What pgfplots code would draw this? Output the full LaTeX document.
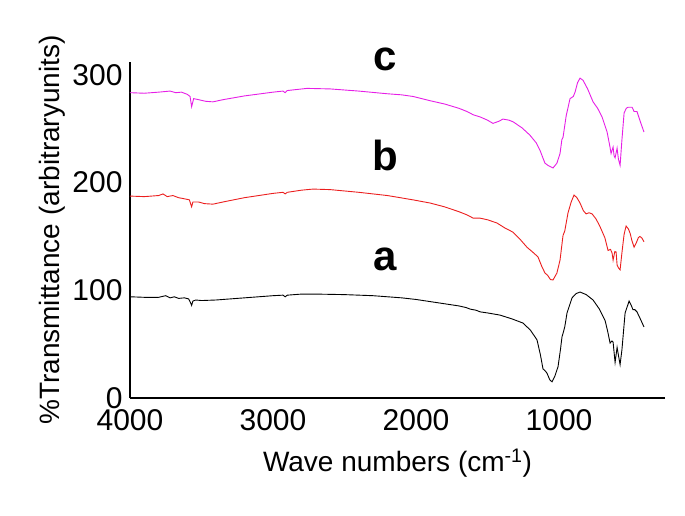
\documentclass[border=0pt]{standalone}
\usepackage{fontspec}
\setmainfont{Liberation Sans}
\usepackage{pgfplots}
\pgfplotsset{compat=1.18}
\definecolor{cmag}{RGB}{230,30,230}
\definecolor{cred}{RGB}{235,30,30}
\begin{document}
\begin{tikzpicture}
\useasboundingbox (-130pt,-117pt) rectangle (555pt,398pt);
\begin{axis}[
  scale only axis, width=535pt, height=336pt,
  x dir=reverse, xmin=259, xmax=4000, ymin=0, ymax=312,
  axis x line*=bottom, axis y line*=left,
  axis line style={line width=2.2pt},
  xtick={4000,3000,2000,1000}, ytick={0,100,200,300},
  major tick length=0pt,
  /pgf/number format/assume math mode=true,
  /pgf/number format/1000 sep={},
  ticklabel style={font=\fontsize{30}{34}\selectfont},
  xticklabel style={yshift=-8pt},
  yticklabel style={xshift=-4pt},
  label style={font=\fontsize{28}{33}\selectfont},
  xlabel={Wave numbers (cm\textsuperscript{-1})},
  ylabel={\%Transmittance (arbitraryunits)},
  xlabel style={at={(axis description cs:0.5,-0.193)}, anchor=center},
  ylabel style={at={(axis description cs:-0.1458,0.5)}, anchor=center},
  clip=false,
]
\addplot[black, line width=0.9pt] coordinates {
(4000,94)(3900,93.5)(3800,93.5)(3750,95)(3720,93)(3690,94)(3660,92.5)(3620,93)(3590,92)(3575,88)(3569,86)(3560,90)(3540,91)(3500,90.5)(3400,91)(3200,93)(3000,95)(2930,95.5)(2915,94)(2900,95.5)(2800,96.5)(2700,96.5)(2500,96)(2300,95)(2100,93)(2000,91.5)(1900,89.5)(1800,87.5)(1700,85.5)(1650,84)(1620,82.5)(1580,81.5)(1552,80)(1500,79)(1413,77)(1330,73.5)(1252,69.6)(1200,63)(1154,54)(1130,40)(1112,27)(1095,25)(1084,23)(1065,17)(1049,15)(1030,20)(1007,29)(990,45)(979,57)(972,60)(960,66)(944,79)(909,93)(880,97)(853,98.4)(810,96)(762,91)(720,83)(678,72)(660,62)(643,51)(630,53)(622,52)(608,33)(594,47)(585,40)(573,31)(560,45)(538,79)(510,90)(495,86)(483,82)(470,82)(455,80)(430,73)(406,66)
};
\addplot[cred, line width=0.9pt] coordinates {
(4000,187.5)(3900,187)(3800,188)(3769,189.5)(3740,187)(3700,188)(3660,186)(3620,185)(3585,184)(3575,180)(3569,177.6)(3560,182)(3520,182)(3480,180.5)(3420,180)(3350,182)(3200,186)(3000,190)(2930,191)(2915,189.5)(2900,191)(2800,193)(2720,194)(2600,193.5)(2400,191)(2200,188)(2021,184)(1900,181)(1800,177.5)(1700,173)(1643,170)(1600,167)(1552,167)(1500,165.5)(1434,162.5)(1380,158)(1322,154)(1270,147)(1224,140)(1180,135)(1147,131)(1120,122)(1098,116)(1080,114)(1060,110)(1042,109.6)(1015,116)(993,128)(972,151)(960,155)(937,172)(915,182)(895,188.5)(875,186)(853,181)(830,174)(811,171)(790,172)(769,171)(740,166)(713,159)(680,149)(657,137)(640,138)(629,134.6)(622,128)(610,136)(601,135.6)(594,123.5)(585,121)(573,119)(560,135)(545,152)(531,159.7)(515,157)(503,153)(490,146)(475,140)(460,144)(445,149)(434,150)(420,148.5)(406,145)
};
\addplot[cmag, line width=0.9pt] coordinates {
(4000,283.5)(3900,283)(3800,284)(3720,285)(3680,283.5)(3640,284)(3600,282)(3580,280)(3569,270.5)(3555,278)(3520,277)(3470,275.5)(3420,275)(3350,277)(3200,280.5)(3000,284)(2930,285)(2915,283.5)(2900,285.5)(2762,287.5)(2600,287)(2400,285)(2200,282.5)(2100,281.5)(2021,280)(1900,276)(1800,273)(1700,269)(1643,266)(1600,263)(1552,261)(1500,258)(1462,255)(1420,257)(1392,259)(1350,258)(1322,256.5)(1260,251)(1203,244)(1160,237)(1133,230)(1110,222)(1098,218)(1077,216)(1042,213.6)(1015,218)(993,227)(980,240)(972,242)(950,262)(923,278)(900,280)(888,284)(870,293)(853,297)(832,295)(800,287)(762,275)(730,269)(699,261)(664,247)(645,234)(636,227)(622,233)(615,225)(608,223)(594,232)(585,222)(573,216)(560,240)(545,264.6)(530,269)(517,270)(500,270)(489,270)(475,266)(455,266)(430,256)(406,247)
};
\node[anchor=base, inner sep=0pt, font=\fontsize{42}{48}\selectfont\bfseries] at (axis cs:2215,118.8) {a};
\node[anchor=base, inner sep=0pt, font=\fontsize{42}{48}\selectfont\bfseries] at (axis cs:2215,211.7) {b};
\node[anchor=base, inner sep=0pt, font=\fontsize{42}{48}\selectfont\bfseries] at (axis cs:2215,304.5) {c};
\end{axis}
\end{tikzpicture}
\end{document}
